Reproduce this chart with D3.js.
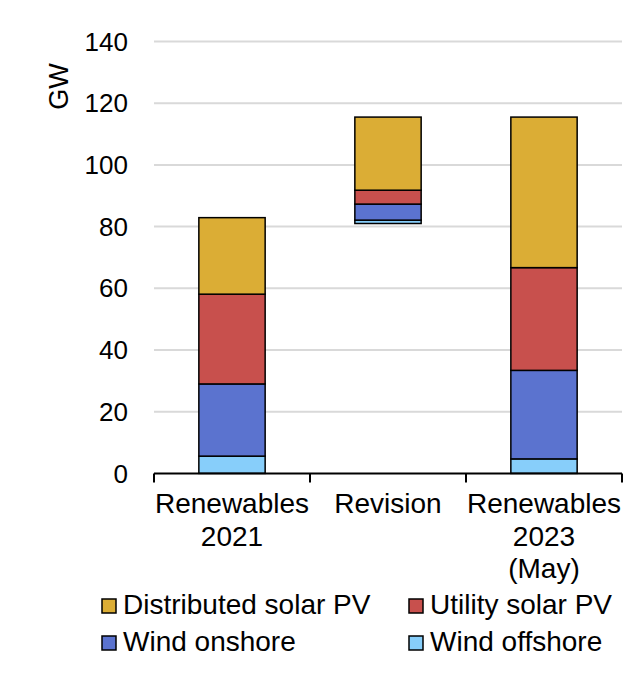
<!DOCTYPE html>
<html><head><meta charset="utf-8">
<script src="https://cdn.jsdelivr.net/npm/d3@7"></script>
<style>body{margin:0;background:#fff;} svg{display:block;font-family:"Liberation Sans",Arial,sans-serif;}</style>
</head><body>
<script>
const categories = ["Renewables 2021", "Revision", "Renewables 2023 (May)"];
const categoryLines = [["Renewables","2021"],["Revision"],["Renewables","2023","(May)"]];
const seriesNames = ["Wind offshore","Wind onshore","Utility solar PV","Distributed solar PV"];
const seriesColors = ["#87CEFA","#5B73CF","#C8504D","#DBAD35"];
const baseValues = [0, 81.0, 0];
const windOffshore = [5.6, 1.1, 4.7];
const windOnshore = [23.4, 5.2, 28.7];
const utilitySolar = [29.1, 4.5, 33.3];
const distributedSolar = [24.8, 23.7, 48.8];
const yTicks = [0,20,40,60,80,100,120,140];
const legendOrder = ["Distributed solar PV","Utility solar PV","Wind onshore","Wind offshore"];

const W = 631, H = 688;
const svg = d3.select("body").append("svg").attr("width",W).attr("height",H);

const x = d3.scaleBand().domain(categories).range([154,622]).padding(0);
const y = d3.scaleLinear().domain([0,140]).range([473.4,41.5]);
const barW = x.bandwidth()*0.425;

// gridlines
svg.append("g").selectAll("line").data(yTicks.filter(d=>d>0)).join("line")
  .attr("x1",154).attr("x2",622).attr("y1",d=>y(d)).attr("y2",d=>y(d))
  .attr("stroke","#d9d9d9").attr("stroke-width",2);

// y tick labels
svg.append("g").selectAll("text").data(yTicks).join("text")
  .attr("x",128).attr("y",d=>y(d)).attr("dy","0.35em").attr("text-anchor","end")
  .attr("font-size",26).attr("fill","#000").text(d=>d);

// GW label
svg.append("text").attr("transform",`translate(68,86.5) rotate(-90)`)
  .attr("text-anchor","middle").attr("font-size",27).text("GW");

// stacked bars
const seriesData = [windOffshore, windOnshore, utilitySolar, distributedSolar];
categories.forEach((c,i)=>{
  let acc = baseValues[i];
  seriesData.forEach((s,k)=>{
    const v0 = acc, v1 = acc + s[i];
    acc = v1;
    svg.append("rect")
      .attr("x", x(c)+x.bandwidth()/2-barW/2).attr("width",barW)
      .attr("y", y(v1)).attr("height", y(v0)-y(v1))
      .attr("fill",seriesColors[k]).attr("stroke","#000").attr("stroke-width",1.5);
  });
});

// x axis
const xAxisG = svg.append("g");
xAxisG.append("line").attr("x1",154).attr("x2",622).attr("y1",y(0)).attr("y2",y(0))
  .attr("stroke","#000").attr("stroke-width",2);
const tickXs = categories.map(c=>x(c)).concat([x(categories[categories.length-1])+x.bandwidth()]);
xAxisG.selectAll(".tk").data(tickXs).join("line").attr("class","tk")
  .attr("x1",d=>d).attr("x2",d=>d).attr("y1",y(0)).attr("y2",y(0)+9)
  .attr("stroke","#000").attr("stroke-width",2);
categories.forEach((c,i)=>{
  const t = svg.append("text").attr("text-anchor","middle").attr("font-size",28);
  categoryLines[i].forEach((ln,j)=>{
    t.append("tspan").attr("x",x(c)+x.bandwidth()/2).attr("y",513+j*32.5).text(ln);
  });
});

// legend
const legPos = [[102,614],[409,614],[102,651],[409,651]];
legendOrder.forEach((name,i)=>{
  const k = seriesNames.indexOf(name);
  const [lx,ly] = legPos[i];
  svg.append("rect").attr("x",lx).attr("y",ly-15).attr("width",14).attr("height",14)
    .attr("fill",seriesColors[k]).attr("stroke","#000").attr("stroke-width",1.5);
  svg.append("text").attr("x",lx+21).attr("y",ly).attr("font-size",28).text(name);
});
</script>
</body></html>
